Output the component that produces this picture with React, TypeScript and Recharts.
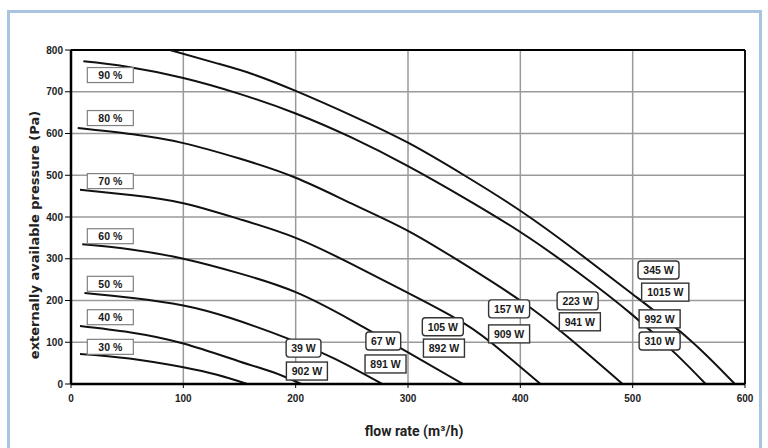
import React from 'react'
import { ComposedChart, Line, Scatter, XAxis, YAxis, CartesianGrid, ReferenceLine } from 'recharts'

// fan curves: flow rate (m3/h) -> pressure (Pa)
const fan30 = [
  { x: 8, y: 72 }, { x: 52, y: 61 }, { x: 100, y: 40 }, { x: 130, y: 22 }, { x: 157, y: 0 },
]
const fan40 = [
  { x: 8, y: 139 }, { x: 52, y: 124 }, { x: 100, y: 97 }, { x: 150, y: 54 }, { x: 180, y: 28 }, { x: 205, y: 0 },
]
const fan50 = [
  { x: 12, y: 218 }, { x: 55, y: 206 }, { x: 100, y: 188 }, { x: 142, y: 158 }, { x: 192, y: 110 },
  { x: 235, y: 60 }, { x: 277, y: 0 },
]
const fan60 = [
  { x: 10, y: 335 }, { x: 52, y: 323 }, { x: 100, y: 300 }, { x: 150, y: 265 }, { x: 200, y: 220 },
  { x: 250, y: 152 }, { x: 300, y: 76 }, { x: 349, y: 0 },
]
const fan70 = [
  { x: 8, y: 465 }, { x: 55, y: 452 }, { x: 100, y: 433 }, { x: 150, y: 395 }, { x: 200, y: 350 },
  { x: 250, y: 287 }, { x: 300, y: 218 }, { x: 350, y: 145 }, { x: 385, y: 75 }, { x: 418, y: 0 },
]
const fan80 = [
  { x: 6, y: 613 }, { x: 55, y: 598 }, { x: 100, y: 577 }, { x: 150, y: 540 }, { x: 200, y: 494 },
  { x: 250, y: 432 }, { x: 300, y: 367 }, { x: 350, y: 287 }, { x: 400, y: 200 }, { x: 442, y: 113 },
  { x: 491, y: 0 },
]
const fan90 = [
  { x: 11, y: 773 }, { x: 50, y: 760 }, { x: 100, y: 733 }, { x: 150, y: 695 }, { x: 200, y: 648 },
  { x: 250, y: 590 }, { x: 300, y: 522 }, { x: 350, y: 446 }, { x: 400, y: 364 }, { x: 450, y: 270 },
  { x: 500, y: 165 }, { x: 540, y: 68 }, { x: 565, y: 0 },
]
const fan100 = [
  { x: 88, y: 800 }, { x: 130, y: 768 }, { x: 162, y: 742 }, { x: 200, y: 702 }, { x: 250, y: 643 },
  { x: 300, y: 578 }, { x: 350, y: 500 }, { x: 400, y: 415 }, { x: 450, y: 318 }, { x: 500, y: 215 },
  { x: 550, y: 108 }, { x: 591, y: 0 },
]

const xTicks = [0, 100, 200, 300, 400, 500, 600]
const yTicks = [0, 100, 200, 300, 400, 500, 600, 700, 800]

// boxed labels, placed in data coordinates
const percentLabels = [
  { x: 35, y: 740, text: '90 %' },
  { x: 35, y: 637, text: '80 %' },
  { x: 35, y: 486, text: '70 %' },
  { x: 35, y: 354, text: '60 %' },
  { x: 35, y: 240, text: '50 %' },
  { x: 35, y: 160, text: '40 %' },
  { x: 35, y: 89, text: '30 %' },
]
const powerLabels = [
  { x: 207, y: 86, text: '39 W' },
  { x: 278, y: 103, text: '67 W' },
  { x: 331, y: 137, text: '105 W' },
  { x: 390, y: 180, text: '157 W' },
  { x: 451, y: 199, text: '223 W' },
  { x: 523, y: 273, text: '345 W' },
  { x: 524, y: 103, text: '310 W' },
]
const motorLabels = [
  { x: 210, y: 31, text: '902 W' },
  { x: 280, y: 48, text: '891 W' },
  { x: 332, y: 86, text: '892 W' },
  { x: 390, y: 120, text: '909 W' },
  { x: 453, y: 149, text: '941 W' },
  { x: 529, y: 220, text: '1015 W' },
  { x: 524, y: 156, text: '992 W' },
]

const curves = [fan30, fan40, fan50, fan60, fan70, fan80, fan90, fan100]

const tickFont = { fontSize: 10, fontWeight: 700, fill: '#222', fontFamily: '"Liberation Sans", Arial, sans-serif' }

const boxShape = (kind: 'pct' | 'round' | 'square') => (props: any) => {
  const { cx, cy, payload } = props
  const text: string = payload.text
  const w = kind === 'pct' ? 46 : text.length * 6.2 + 10
  const h = kind === 'pct' ? 15 : 18
  return (
    <g>
      <rect
        x={cx - w / 2}
        y={cy - h / 2}
        width={w}
        height={h}
        rx={kind === 'round' ? 3 : 0}
        fill="#fff"
        stroke={kind === 'pct' ? '#808080' : '#333'}
        strokeWidth={kind === 'pct' ? 1.2 : 1.4}
      />
      <text
        x={cx}
        y={cy}
        dy="0.36em"
        textAnchor="middle"
        fontSize={10.5}
        fontWeight={700}
        fill="#1a1a1a"
        fontFamily='"Liberation Sans", Arial, sans-serif'
      >
        {text}
      </text>
    </g>
  )
}

export default function App() {
  return (
    <div style={{ position: 'absolute', left: 0, top: 0, width: 768, height: 448, overflow: 'hidden', background: '#fff' }}>
      {/* 外枠 */}
      <div
        style={{
          position: 'absolute', left: 7, top: 10, width: 749, height: 450,
          borderLeft: '3px solid #a9c4df', borderTop: '3px solid #a9c4df', borderRight: '3px solid #a9c4df',
        }}
      />

      <div style={{ position: 'absolute', left: 0, top: 0 }}>
        <ComposedChart width={768} height={448} margin={{ top: 50, right: 23, bottom: 42, left: 0 }}>
          <CartesianGrid stroke="#9a9a9a" strokeWidth={1.5} />
          <XAxis
            type="number"
            dataKey="x"
            domain={[0, 600]}
            ticks={xTicks}
            allowDataOverflow
            height={22}
            tickSize={4}
            tickMargin={7}
            tick={tickFont}
            axisLine={{ stroke: '#000', strokeWidth: 2.5 }}
            tickLine={{ stroke: '#000', strokeWidth: 1 }}
          />
          <YAxis
            type="number"
            dataKey="y"
            domain={[0, 800]}
            ticks={yTicks}
            allowDataOverflow
            width={71}
            tickSize={6}
            tickMargin={2}
            tick={tickFont}
            axisLine={{ stroke: '#000', strokeWidth: 2.5 }}
            tickLine={{ stroke: '#000', strokeWidth: 1 }}
          />
          <ReferenceLine y={800} stroke="#000" strokeWidth={1.8} />
          <ReferenceLine x={600} stroke="#000" strokeWidth={1.8} />
          {curves.map((c, i) => (
            <Line
              key={i}
              data={c}
              dataKey="y"
              type="natural"
              stroke="#111"
              strokeWidth={2}
              dot={false}
              activeDot={false}
              isAnimationActive={false}
            />
          ))}
          <Scatter data={percentLabels} dataKey="y" shape={boxShape('pct')} isAnimationActive={false} />
          <Scatter data={powerLabels} dataKey="y" shape={boxShape('round')} isAnimationActive={false} />
          <Scatter data={motorLabels} dataKey="y" shape={boxShape('square')} isAnimationActive={false} />
        </ComposedChart>
      </div>

      {/* 軸タイトル */}
      <div
        style={{
          position: 'absolute', left: 34, top: 235, transform: 'translate(-50%, -50%) rotate(-90deg)',
          whiteSpace: 'nowrap', fontFamily: '"DejaVu Sans", Verdana, sans-serif', fontWeight: 700,
          fontSize: 13, color: '#222',
        }}
      >
        externally available pressure (Pa)
      </div>
      <div
        style={{
          position: 'absolute', left: 414, top: 431, transform: 'translate(-50%, -50%)',
          whiteSpace: 'nowrap', fontFamily: 'Roboto, sans-serif', fontWeight: 700, fontSize: 14, color: '#222',
        }}
      >
        flow rate (m³/h)
      </div>
    </div>
  )
}
